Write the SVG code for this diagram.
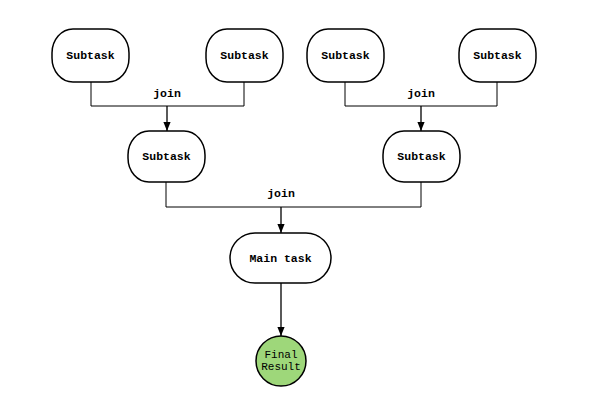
<svg xmlns="http://www.w3.org/2000/svg" width="590" height="405" viewBox="0 0 590 405">
<defs>
<style>
.box{fill:#fff;stroke:#000;stroke-width:1.5}
.t{font-family:"Liberation Mono",monospace;font-size:11.5px;font-weight:bold;text-anchor:middle;fill:#000}
.tn{font-family:"Liberation Mono",monospace;font-size:11px;text-anchor:middle;fill:#000}
.c{fill:none;stroke:#000;stroke-width:1}
.a{fill:none;stroke:#000;stroke-width:1.3;marker-end:url(#ah)}
</style>
<marker id="ah" viewBox="0 0 10 10" refX="10" refY="5" markerWidth="9" markerHeight="9" markerUnits="userSpaceOnUse" orient="auto">
<path d="M0,1 L10,5 L0,9 z" fill="#000"/>
</marker>
</defs>
<rect width="590" height="405" fill="#fff"/>
<g id="connectors">
<path class="c" d="M91,82 V106 H244 V82"/>
<path class="a" d="M167,106 V131"/>
<path class="c" d="M345,82 V106 H497 V82"/>
<path class="a" d="M421,106 V131"/>
<path class="c" d="M166,182 V207 H421 V182"/>
<path class="a" d="M281,207 V233"/>
<path class="a" d="M281,283 V336"/>
<text class="t" x="167" y="97">join</text>
<text class="t" x="421" y="97">join</text>
<text class="t" x="281" y="197">join</text>
</g>
<g id="s1"><rect class="box" x="52" y="29" width="77" height="53" rx="21" ry="24"/><text class="t" x="90.5" y="59">Subtask</text></g>
<g id="s2"><rect class="box" x="206" y="29" width="77" height="53" rx="21" ry="24"/><text class="t" x="244.5" y="59">Subtask</text></g>
<g id="s3"><rect class="box" x="307" y="29" width="77" height="53" rx="21" ry="24"/><text class="t" x="345.5" y="59">Subtask</text></g>
<g id="s4"><rect class="box" x="459" y="29" width="77" height="53" rx="21" ry="24"/><text class="t" x="497.5" y="59">Subtask</text></g>
<g id="s5"><rect class="box" x="128" y="131" width="77" height="51" rx="21" ry="24"/><text class="t" x="166.5" y="160">Subtask</text></g>
<g id="s6"><rect class="box" x="383" y="131" width="77" height="51" rx="21" ry="24"/><text class="t" x="421.5" y="160">Subtask</text></g>
<g id="main"><rect class="box" x="230" y="233" width="101" height="50" rx="25" ry="25"/><text class="t" x="280.5" y="262">Main task</text></g>
<g id="final"><circle cx="281" cy="361" r="25" fill="#9ed77a" stroke="#000" stroke-width="1.5"/><text class="tn" x="281" y="358">Final</text><text class="tn" x="281" y="370">Result</text></g>
</svg>
